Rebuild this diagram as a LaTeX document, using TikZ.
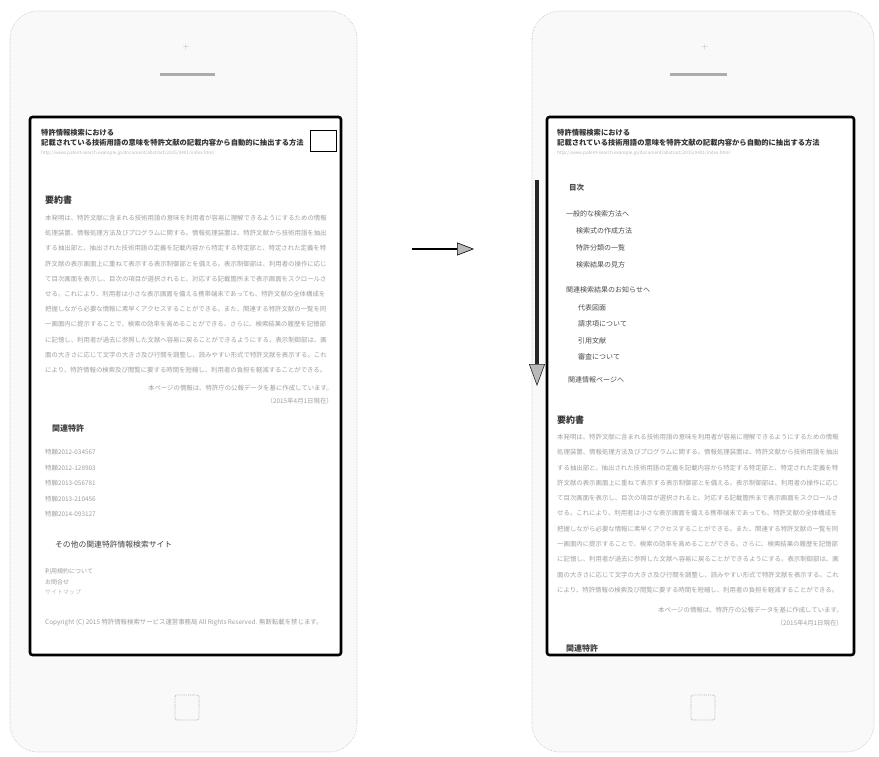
\documentclass[tikz,border=0pt]{standalone}
\usepackage{fontspec}
\newfontfamily\jp{Noto Sans CJK JP}
\usetikzlibrary{arrows.meta}
\newcommand\abslines{%
本発明は、特許文献に含まれる技術用語の意味を利用者が容易に理解できるようにするための情報,%
処理装置、情報処理方法及びプログラムに関する。情報処理装置は、特許文献から技術用語を抽出,%
する抽出部と、抽出された技術用語の定義を記載内容から特定する特定部と、特定された定義を特,%
許文献の表示画面上に重ねて表示する表示制御部とを備える。表示制御部は、利用者の操作に応じ,%
て目次画面を表示し、目次の項目が選択されると、対応する記載箇所まで表示画面をスクロールさ,%
せる。これにより、利用者は小さな表示画面を備える携帯端末であっても、特許文献の全体構成を,%
把握しながら必要な情報に素早くアクセスすることができる。また、関連する特許文献の一覧を同,%
一画面内に提示することで、検索の効率を高めることができる。さらに、検索結果の履歴を記憶部,%
に記憶し、利用者が過去に参照した文献へ容易に戻ることができるようにする。表示制御部は、画,%
面の大きさに応じて文字の大きさ及び行間を調整し、読みやすい形式で特許文献を表示する。これ,%
により、特許情報の検索及び閲覧に要する時間を短縮し、利用者の負担を軽減することができる。}
\tikzset{
  phone/.style={draw=gray!50, densely dotted, fill=gray!5, rounded corners=28pt, line width=0.6pt},
  screen/.style={draw=black, line width=2.6pt, fill=white, rounded corners=2.5pt},
  homebtn/.style={draw=gray!60, densely dotted, line width=0.9pt, rounded corners=1.5pt},
  speakerbar/.style={draw=gray!65, line width=3pt},
  txt/.style={inner sep=0pt, anchor=west, font=\jp\fontsize{6.4}{7}\selectfont, text=gray!75},
  rtxt/.style={txt, anchor=east},
  ttl/.style={txt, font=\jp\bfseries\fontsize{7.3}{8}\selectfont, text=black!80},
  urltxt/.style={txt, font=\jp\fontsize{4.6}{5}\selectfont, text=gray!55},
  headtxt/.style={txt, font=\jp\bfseries\fontsize{9}{10}\selectfont, text=black!80},
  subhead/.style={txt, font=\jp\bfseries\fontsize{8}{9}\selectfont, text=black!75},
  toc/.style={txt, font=\jp\fontsize{7}{8}\selectfont, text=black!70},
  smalltxt/.style={txt, font=\jp\fontsize{6}{7}\selectfont, text=gray!75},
  flowarrow/.style={draw=black, line width=1.6pt, -{Triangle[length=17pt,width=13pt,line width=0.6pt,fill=gray!55]}},
  scrollarrow/.style={draw=black!85, line width=3.2pt, -{Triangle[length=22pt,width=16pt,line width=0.6pt,fill=gray!55]}}
}
\begin{document}
\begin{tikzpicture}[x=1pt,y=-1pt]
\useasboundingbox (0,0) rectangle (879,757);

% ---------- left phone ----------
\draw[phone] (10,11) rectangle (357,752);
\node[inner sep=0pt, text=gray!60, font=\fontsize{9}{9}\selectfont] (spkL) at (186,47) {+};
\draw[speakerbar] (160,75) -- (215,75);
\draw[screen] (30,117) rectangle (341,655);
\draw[homebtn] (175,695) rectangle (199,720);
\draw[draw=black, line width=0.9pt] (310,130) rectangle (336,151);

\node[ttl] (tL1) at (41,133) {特許情報検索における};
\node[ttl] (tL2) at (41,143) {記載されている技術用語の意味を特許文献の記載内容から自動的に抽出する方法};
\node[urltxt] (tL3) at (41,153) {http://www.patent-search.example.jp/document/abstract/2015/0401/index.html};

\node[headtxt] (hL1) at (45,200) {要約書};
\foreach \t [count=\i] in \abslines
  \node[txt] (pL\i) at (45,{218+(\i-1)*15.2}) {\t};
\node[rtxt] (rL1) at (333,388) {本ページの情報は、特許庁の公報データを基に作成しています。};
\node[rtxt] (rL2) at (333,401) {（2015年4月1日現在）};

\node[subhead] (hL2) at (52,428) {関連特許};
\node[txt] (iL1) at (45,452) {特願2012-034567};
\node[txt] (iL2) at (45,468) {特願2012-128903};
\node[txt] (iL3) at (45,483) {特願2013-056781};
\node[txt] (iL4) at (45,499) {特願2013-210456};
\node[txt] (iL5) at (45,514) {特願2014-093127};

\node[subhead, font=\jp\fontsize{7.8}{9}\selectfont] (hL3) at (55,545) {その他の関連特許情報検索サイト};
\node[smalltxt] (sL1) at (45,571) {利用規約について};
\node[smalltxt] (sL2) at (45,582) {お問合せ};
\node[smalltxt, text=gray!50] (sL3) at (45,592) {サイトマップ};
\node[txt] (cL) at (45,623) {Copyright (C) 2015 特許情報検索サービス運営事務局 All Rights Reserved. 無断転載を禁じます。};

% ---------- arrow between phones ----------
\coordinate (a1) at (412,249);
\coordinate (a2) at (474,249);
\draw[flowarrow] (a1) -- (a2);

% ---------- right phone ----------
\draw[phone] (532,11) rectangle (874,752);
\node[inner sep=0pt, text=gray!60, font=\fontsize{9}{9}\selectfont] (spkR) at (705,47) {+};
\draw[speakerbar] (670,75) -- (727,75);
\draw[screen] (547,117) rectangle (854,655);
\draw[homebtn] (691,695) rectangle (715,720);

\node[ttl] (tR1) at (557,133) {特許情報検索における};
\node[ttl] (tR2) at (557,143) {記載されている技術用語の意味を特許文献の記載内容から自動的に抽出する方法};
\node[urltxt] (tR3) at (557,153) {http://www.patent-search.example.jp/document/abstract/2015/0401/index.html};

\node[toc, font=\jp\bfseries\fontsize{7.5}{8}\selectfont] (cR0) at (569,188) {目次};
\node[toc] (cR1) at (566,214) {一般的な検索方法へ};
\node[toc] (cR2) at (576,231) {検索式の作成方法};
\node[toc] (cR3) at (576,248) {特許分類の一覧};
\node[toc] (cR4) at (576,265) {検索結果の見方};
\node[toc] (cR5) at (566,290) {関連検索結果のお知らせへ};
\node[toc] (cR6) at (578,308) {代表図面};
\node[toc] (cR7) at (578,324) {請求項について};
\node[toc] (cR8) at (578,341) {引用文献};
\node[toc] (cR9) at (578,357) {審査について};
\node[toc] (cR10) at (568,380) {関連情報ページへ};

\node[headtxt] (hR1) at (557,420) {要約書};
\foreach \t [count=\i] in \abslines
  \node[txt] (pR\i) at (557,{437+(\i-1)*15.3}) {\t};
\node[rtxt] (rR1) at (843,610) {本ページの情報は、特許庁の公報データを基に作成しています。};
\node[rtxt] (rR2) at (843,623) {（2015年4月1日現在）};
\node[subhead] (hR2) at (566,648) {関連特許};

\coordinate (v1) at (537,180);
\coordinate (v2) at (537,386);
\draw[scrollarrow] (v1) -- (v2);
\end{tikzpicture}
\end{document}
